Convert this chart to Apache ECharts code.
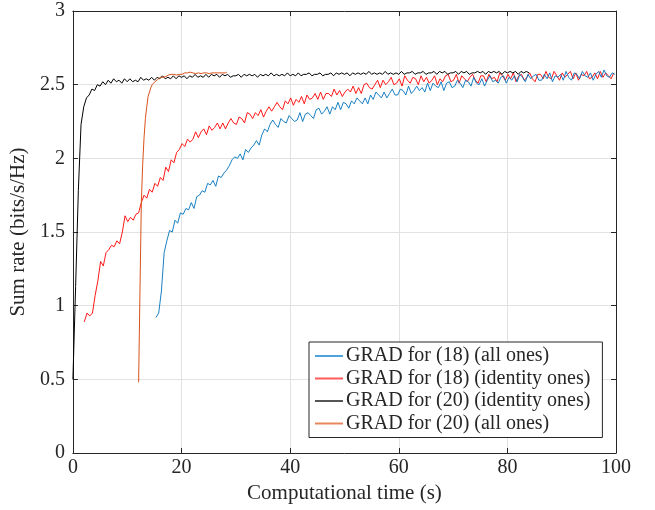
<!DOCTYPE html>
<html>
<head>
<meta charset="utf-8">
<script src="https://cdn.jsdelivr.net/npm/echarts@6/dist/echarts.min.js"></script>
<style>
html,body{margin:0;padding:0;background:#fff;}
#chart{width:655px;height:510px;}
</style>
</head>
<body>
<div id="chart"></div>
<script>
// Legend names
const seriesNames = [
  'GRAD for (18) (all ones)',
  'GRAD for (18) (identity ones)',
  'GRAD for (20) (identity ones)',
  'GRAD for (20) (all ones)'
];
// Sampling times (s): first sample and spacing per series
const blueT0 = 15.3, blueDt = 0.5;
const redT0 = 2.1, redDt = 0.5;
const blackT0 = 0, blackDt = 0.5;
const orangeT0 = 12.1, orangeDt = 0.25;

// GRAD for (18) (all ones)
const blueVals = [
 0.92,0.95,1.10,1.36,1.44,1.51,1.50,1.58,1.56,1.63,
 1.62,1.66,1.65,1.70,1.66,1.74,1.75,1.78,1.77,1.83,
 1.82,1.85,1.81,1.88,1.87,1.90,1.92,1.95,1.99,2.01,
 2.00,2.03,1.99,2.06,2.04,2.07,2.09,2.12,2.09,2.16,
 2.20,2.18,2.23,2.26,2.23,2.21,2.27,2.25,2.24,2.29,
 2.27,2.25,2.26,2.31,2.25,2.30,2.31,2.29,2.27,2.33,
 2.34,2.30,2.32,2.35,2.30,2.35,2.33,2.38,2.33,2.38,
 2.37,2.34,2.39,2.37,2.41,2.39,2.37,2.41,2.37,2.43,
 2.40,2.45,2.43,2.41,2.45,2.41,2.44,2.47,2.43,2.43,
 2.47,2.46,2.43,2.49,2.44,2.46,2.49,2.46,2.48,2.45,
 2.51,2.46,2.51,2.49,2.48,2.52,2.46,2.51,2.52,2.48,
 2.49,2.53,2.51,2.48,2.53,2.52,2.49,2.55,2.51,2.50,
 2.54,2.49,2.53,2.56,2.52,2.53,2.51,2.55,2.56,2.51,
 2.55,2.53,2.56,2.52,2.57,2.55,2.52,2.57,2.54,2.56,
 2.57,2.53,2.53,2.57,2.54,2.58,2.52,2.56,2.55,2.57,
 2.53,2.59,2.55,2.53,2.58,2.57,2.54,2.59,2.56,2.55,
 2.58,2.53,2.57,2.59,2.55,2.60,2.56,2.55,2.58,2.57
];
// GRAD for (18) (identity ones)
const redVals = [
 0.89,0.95,0.93,0.95,1.07,1.17,1.30,1.27,1.36,1.38,
 1.41,1.40,1.44,1.42,1.50,1.61,1.57,1.60,1.58,1.62,
 1.63,1.70,1.75,1.73,1.79,1.77,1.83,1.81,1.87,1.85,
 1.94,1.91,1.99,1.97,2.04,2.06,2.10,2.08,2.13,2.11,
 2.13,2.18,2.14,2.18,2.20,2.16,2.22,2.19,2.21,2.24,
 2.20,2.24,2.20,2.24,2.27,2.24,2.23,2.28,2.27,2.24,
 2.31,2.30,2.27,2.31,2.29,2.33,2.28,2.32,2.35,2.32,
 2.35,2.38,2.35,2.33,2.39,2.37,2.41,2.36,2.40,2.38,
 2.42,2.37,2.43,2.40,2.41,2.44,2.40,2.45,2.40,2.44,
 2.44,2.42,2.47,2.43,2.46,2.42,2.45,2.47,2.45,2.49,
 2.44,2.48,2.44,2.50,2.51,2.48,2.47,2.50,2.53,2.48,
 2.53,2.50,2.52,2.55,2.50,2.51,2.54,2.49,2.56,2.53,
 2.51,2.55,2.54,2.50,2.56,2.52,2.55,2.51,2.53,2.56,
 2.50,2.54,2.52,2.56,2.57,2.52,2.53,2.57,2.51,2.56,
 2.54,2.52,2.55,2.57,2.53,2.51,2.56,2.56,2.52,2.57,
 2.54,2.55,2.52,2.58,2.56,2.53,2.57,2.54,2.58,2.52,
 2.56,2.57,2.53,2.55,2.58,2.54,2.52,2.57,2.57,2.54,
 2.59,2.55,2.54,2.59,2.56,2.53,2.58,2.55,2.57,2.59,
 2.54,2.58,2.53,2.57,2.56,2.59,2.54,2.55,2.58,2.54,
 2.59,2.55,2.58,2.56,2.54,2.58
];
// GRAD for (20) (identity ones)
const blackVals = [
 0.50,1.13,1.78,2.23,2.35,2.41,2.43,2.47,2.46,2.50,
 2.49,2.52,2.50,2.53,2.51,2.54,2.52,2.53,2.51,2.54,
 2.52,2.54,2.52,2.53,2.52,2.55,2.53,2.54,2.53,2.55,
 2.53,2.55,2.54,2.56,2.54,2.55,2.54,2.56,2.54,2.56,
 2.55,2.56,2.54,2.56,2.55,2.57,2.55,2.56,2.55,2.57,
 2.55,2.57,2.56,2.57,2.55,2.57,2.56,2.57,2.55,2.56,
 2.56,2.57,2.55,2.57,2.56,2.57,2.56,2.57,2.55,2.57,
 2.56,2.57,2.56,2.58,2.56,2.57,2.56,2.57,2.56,2.58,
 2.56,2.57,2.56,2.58,2.56,2.57,2.57,2.58,2.56,2.57,
 2.57,2.58,2.56,2.57,2.57,2.58,2.56,2.58,2.57,2.58,
 2.57,2.58,2.56,2.58,2.57,2.58,2.57,2.58,2.57,2.59,
 2.57,2.58,2.57,2.58,2.57,2.59,2.57,2.58,2.57,2.58,
 2.57,2.59,2.57,2.58,2.58,2.59,2.57,2.58,2.58,2.59,
 2.57,2.58,2.58,2.59,2.57,2.59,2.58,2.59,2.57,2.58,
 2.58,2.59,2.57,2.59,2.58,2.59,2.57,2.58,2.58,2.59,
 2.58,2.59,2.57,2.59,2.58,2.59,2.58,2.59,2.57,2.59,
 2.58,2.59,2.58,2.59,2.57,2.59,2.58,2.59,2.58
];
// GRAD for (20) (all ones)
const orangeVals = [
 0.48,1.10,1.70,1.96,2.14,2.27,2.35,2.42,2.45,2.48,
 2.50,2.51,2.52,2.53,2.535,2.54,2.55,2.545,2.55,2.56,
 2.555,2.56,2.565,2.56,2.57,2.565,2.57,2.575,2.565,2.575,
 2.57,2.58,2.57,2.575,2.58,2.57,2.58,2.575,2.585,2.575,
 2.58,2.585,2.575,2.585,2.58,2.585,2.575,2.585,2.58,2.59,
 2.58,2.585,2.575,2.585,2.58,2.59,2.58,2.585,2.58,2.59,
 2.58,2.585,2.58,2.59,2.58,2.585
];

function toPairs(t0, dt, vals){ return vals.map((v,i)=>[+(t0+i*dt).toFixed(3), v]); }

const FONT = '"Liberation Serif", "Times New Roman", serif';
const TXT = '#262626';
const AX = '#262626';
const GRID = '#e2e2e2';
const COLORS = ['#0072BD', '#FF0000', '#000000', '#D95319'];
const LEGEND_COLORS = ['#4ea3dc', '#ff5a5a', '#555555', '#e8875c'];

const chart = echarts.init(document.getElementById('chart'), null, {renderer:'canvas'});

function lineSeries(name, color, data, z, opacity){
  return {
    name, type:'line', data, z,
    showSymbol:false, symbol:'none', smooth:false, animation:false,
    lineStyle:{color, width:1, opacity},
    itemStyle:{color},
    emphasis:{disabled:true}
  };
}

const option = {
  backgroundColor:'#ffffff',
  animation:false,
  grid:{left:72, right:39, top:11, bottom:57, containLabel:false},
  xAxis:[{
    type:'value', min:0, max:100, interval:20,
    name:'Computational time (s)', nameLocation:'middle', nameGap:29,
    nameTextStyle:{fontFamily:FONT, fontSize:21, color:TXT},
    axisLine:{show:true, lineStyle:{color:AX, width:1}},
    axisTick:{show:true, inside:true, length:5, lineStyle:{color:AX}},
    axisLabel:{fontFamily:FONT, fontSize:20, color:TXT, margin:5},
    splitLine:{show:true, lineStyle:{color:GRID, width:1}}
  },{
    type:'value', min:0, max:100, interval:20, position:'top',
    axisLine:{show:true, onZero:false, lineStyle:{color:AX, width:1}},
    axisTick:{show:true, inside:true, length:5, lineStyle:{color:AX}},
    axisLabel:{show:false}, splitLine:{show:false}
  }],
  yAxis:[{
    type:'value', min:0, max:3, interval:0.5,
    name:'Sum rate (bits/s/Hz)', nameLocation:'middle', nameGap:34, nameRotate:90,
    nameTextStyle:{fontFamily:FONT, fontSize:21, color:TXT},
    axisLine:{show:true, lineStyle:{color:AX, width:1}},
    axisTick:{show:true, inside:true, length:5, lineStyle:{color:AX}},
    axisLabel:{fontFamily:FONT, fontSize:20, color:TXT, margin:8},
    splitLine:{show:true, lineStyle:{color:GRID, width:1}}
  },{
    type:'value', min:0, max:3, interval:0.5, position:'right',
    axisLine:{show:true, onZero:false, lineStyle:{color:AX, width:1}},
    axisTick:{show:true, inside:true, length:5, lineStyle:{color:AX}},
    axisLabel:{show:false}, splitLine:{show:false}
  }],
  legend:{
    orient:'vertical', left:309, top:342,
    data:seriesNames.map((n,i)=>({name:n, icon:'rect', itemStyle:{color:LEGEND_COLORS[i]}})),
    backgroundColor:'#ffffff', borderColor:AX, borderWidth:1,
    padding:[4,12,4,6], itemGap:2.5, itemWidth:28, itemHeight:2,
    textStyle:{fontFamily:FONT, fontSize:20, color:TXT, padding:[0,0,0,-2]},
    selectedMode:false
  },
  series:[
    lineSeries(seriesNames[0], COLORS[0], toPairs(blueT0, blueDt, blueVals), 4, 0.9),
    lineSeries(seriesNames[1], COLORS[1], toPairs(redT0, redDt, redVals), 3, 0.9),
    lineSeries(seriesNames[2], COLORS[2], toPairs(blackT0, blackDt, blackVals), 5, 1),
    lineSeries(seriesNames[3], COLORS[3], toPairs(orangeT0, orangeDt, orangeVals), 6, 1)
  ]
};
chart.setOption(option);
</script>
</body>
</html>
